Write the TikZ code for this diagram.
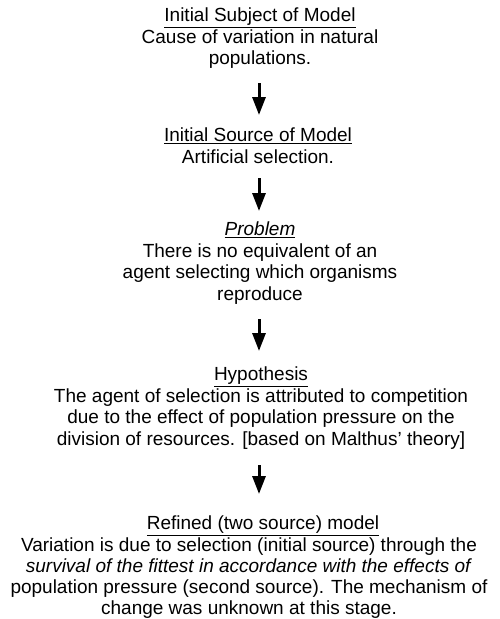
\documentclass[tikz,border=0pt]{standalone}
\usepackage{fontspec}
\setmainfont{Liberation Sans}
\usetikzlibrary{arrows.meta}
\begin{document}
\begin{tikzpicture}[x=1pt,y=-1pt,
  blk/.style={align=center,inner sep=0pt,anchor=north,font=\fontsize{19}{21.5}\selectfont},
  arr/.style={line width=3pt,-{Triangle[width=13pt,length=18pt]}}]
\useasboundingbox (0,0) rectangle (500,619);
\node[blk] (b1) at (260,8) {\underline{Initial Subject of Model}\\Cause of variation in natural\\populations.};
\node[blk] (b2) at (258,128) {\underline{Initial Source of Model}\\Artificial selection.};
\node[blk] (b3) at (260,222) {\underline{\textit{Problem}}\\There is no equivalent of an\\agent selecting which organisms\\reproduce};
\node[blk] (b4) at (261,367) {\underline{Hypothesis}\\The agent of selection is attributed to competition\\due to the effect of population pressure on the\\division of resources. [based on Malthus' theory]};
\node[blk,font=\fontsize{19}{21.2}\selectfont] (b5) at (249,516) {\hspace*{28pt}\underline{Refined (two source) model}\\Variation is due to selection (initial source) through the\\\textit{survival of the fittest in accordance with the effects of}\\population pressure (second source). The mechanism of\\change was unknown at this stage.};
\draw[arr,shorten <=14pt,shorten >=13pt] (b1.south -| 259,0) -- (b2.north -| 259,0);
\draw[arr,shorten <=14.5pt,shorten >=11pt] (b2.south -| 259,0) -- (b3.north -| 259,0);
\draw[arr,shorten <=14.5pt,shorten >=16pt] (b3.south -| 259,0) -- (b4.north -| 259,0);
\draw[arr,shorten <=15.5pt,shorten >=22pt] (b4.south -| 259,0) -- (b5.north -| 259,0);
\end{tikzpicture}
\end{document}
